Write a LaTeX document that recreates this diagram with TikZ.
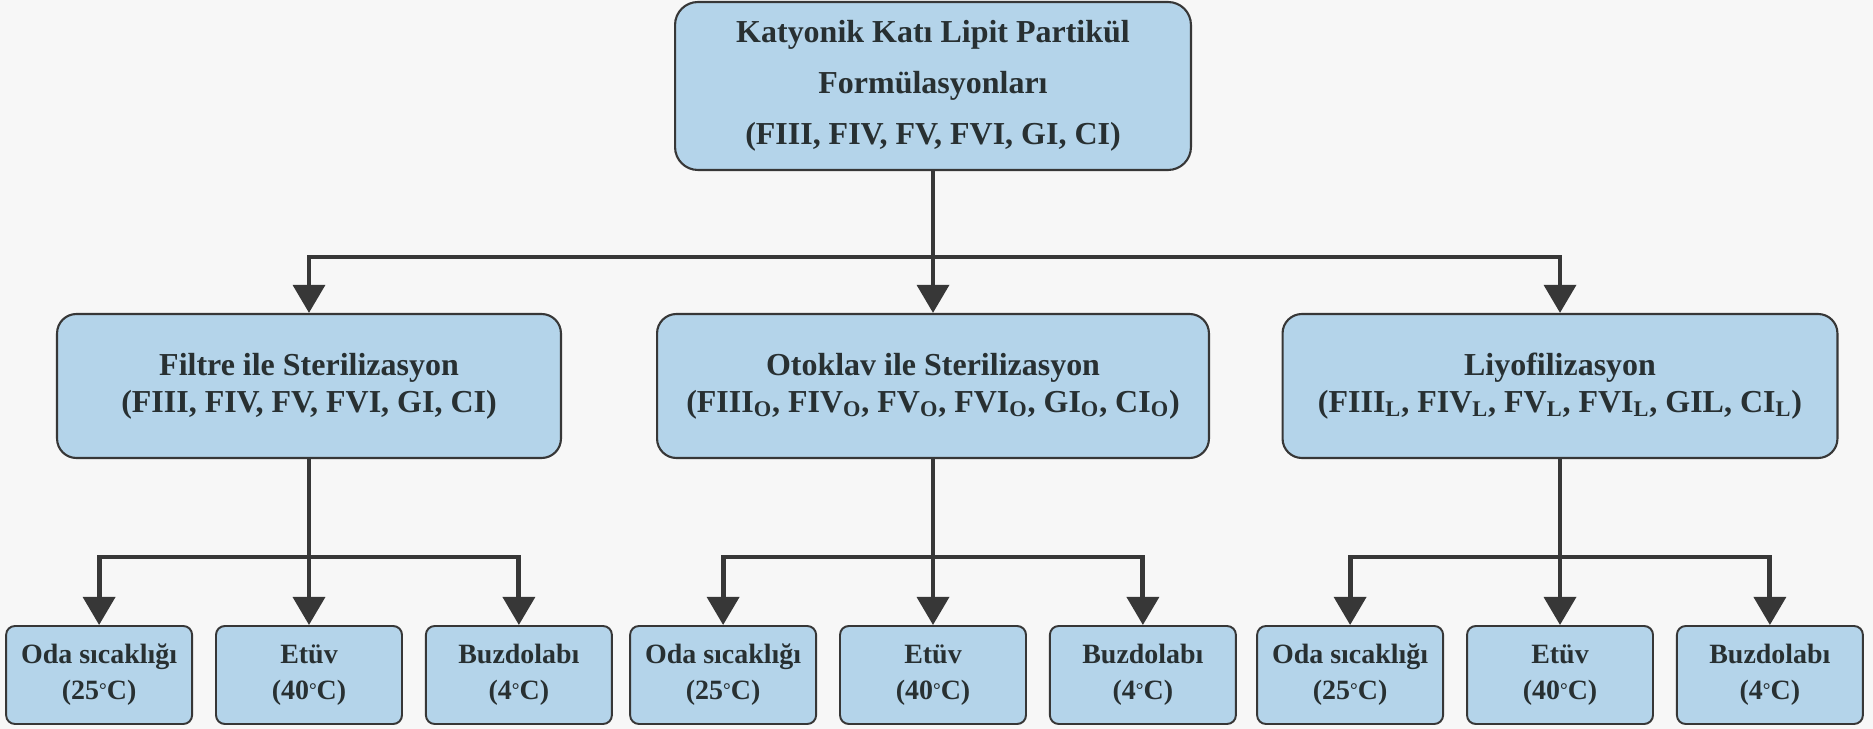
\documentclass[tikz,border=0pt]{standalone}
\usepackage{fontspec}
\setmainfont{Liberation Serif}
\usetikzlibrary{positioning,arrows.meta}
\definecolor{boxfill}{RGB}{180,212,234}
\definecolor{boxline}{RGB}{55,55,55}
\definecolor{inktext}{RGB}{40,48,50}
\definecolor{paper}{RGB}{247,247,247}
\newcommand{\degsign}{\raisebox{0.12em}{\fontsize{11}{11}\selectfont °}}
\tikzset{
tree/.style={
    x=0.02cm,
    y=-0.02cm,
    >={Triangle[length=16pt,width=18pt]},
    text=inktext
},
main/.style={
    draw=boxline,
    line width=1.2pt,
    fill=boxfill,
    rounded corners=13pt,
    align=center,
    minimum width=10.32cm,
    minimum height=3.36cm,
    font=\fontsize{18.2}{29}\selectfont\bfseries
},
method/.style={
    draw=boxline,
    line width=1.2pt,
    fill=boxfill,
    rounded corners=11pt,
    align=center,
    minimum height=2.88cm,
    font=\fontsize{18.2}{21}\selectfont\bfseries
},
cond/.style={
    draw=boxline,
    line width=1.1pt,
    fill=boxfill,
    rounded corners=5pt,
    align=center,
    minimum width=3.72cm,
    minimum height=1.96cm,
    font=\fontsize{15.9}{20.5}\selectfont\bfseries
},
link/.style={
    draw=boxline,
    line width=2.8pt
},
goes/.style={
    link,
    ->
}}

\begin{document}
\begin{tikzpicture}[tree]
\path[fill=paper, use as bounding box] (0,0) rectangle (1873,729);

\node    (top)   [main] at (933,86)
    {Katyonik Katı Lipit Partikül\\Formülasyonları\\(FIII, FIV, FV, FVI, GI, CI)};

\node    (filt)  [method, minimum width=10.08cm] at (309,386)
    {Filtre ile Sterilizasyon\\(FIII, FIV, FV, FVI, GI, CI)};
\node    (otok)  [method, minimum width=11.04cm] at (933,386)
    {Otoklav ile Sterilizasyon\\(FIII\textsubscript{O}, FIV\textsubscript{O}, FV\textsubscript{O}, FVI\textsubscript{O}, GI\textsubscript{O}, CI\textsubscript{O})};
\node    (liyo)  [method, minimum width=11.1cm] at (1560,386)
    {Liyofilizasyon\\(FIII\textsubscript{L}, FIV\textsubscript{L}, FV\textsubscript{L}, FVI\textsubscript{L}, GIL, CI\textsubscript{L})};

\node    (f2)    [cond] at (309,675)          {Etüv\\(40\degsign C)};
\node    (f1)    [cond, left=0.44cm of f2]    {Oda sıcaklığı\\(25\degsign C)};
\node    (f3)    [cond, right=0.44cm of f2]   {Buzdolabı\\(4\degsign C)};

\node    (o2)    [cond] at (933,675)          {Etüv\\(40\degsign C)};
\node    (o1)    [cond, left=0.44cm of o2]    {Oda sıcaklığı\\(25\degsign C)};
\node    (o3)    [cond, right=0.44cm of o2]   {Buzdolabı\\(4\degsign C)};

\node    (l2)    [cond] at (1560,675)         {Etüv\\(40\degsign C)};
\node    (l1)    [cond, left=0.44cm of l2]    {Oda sıcaklığı\\(25\degsign C)};
\node    (l3)    [cond, right=0.44cm of l2]   {Buzdolabı\\(4\degsign C)};

\coordinate (bus)  at (933,257);
\coordinate (fbus) at (309,557);
\coordinate (obus) at (933,557);
\coordinate (lbus) at (1560,557);

\path[link]   (top)   --    (bus);
\path[goes]   (bus)   -|    (filt);
\path[goes]   (bus)   --    (otok);
\path[goes]   (bus)   -|    (liyo);

\path[link]   (filt)  --    (fbus);
\path[goes]   (fbus)  -|    (f1);
\path[goes]   (fbus)  --    (f2);
\path[goes]   (fbus)  -|    (f3);

\path[link]   (otok)  --    (obus);
\path[goes]   (obus)  -|    (o1);
\path[goes]   (obus)  --    (o2);
\path[goes]   (obus)  -|    (o3);

\path[link]   (liyo)  --    (lbus);
\path[goes]   (lbus)  -|    (l1);
\path[goes]   (lbus)  --    (l2);
\path[goes]   (lbus)  -|    (l3);
\end{tikzpicture}
\end{document}
